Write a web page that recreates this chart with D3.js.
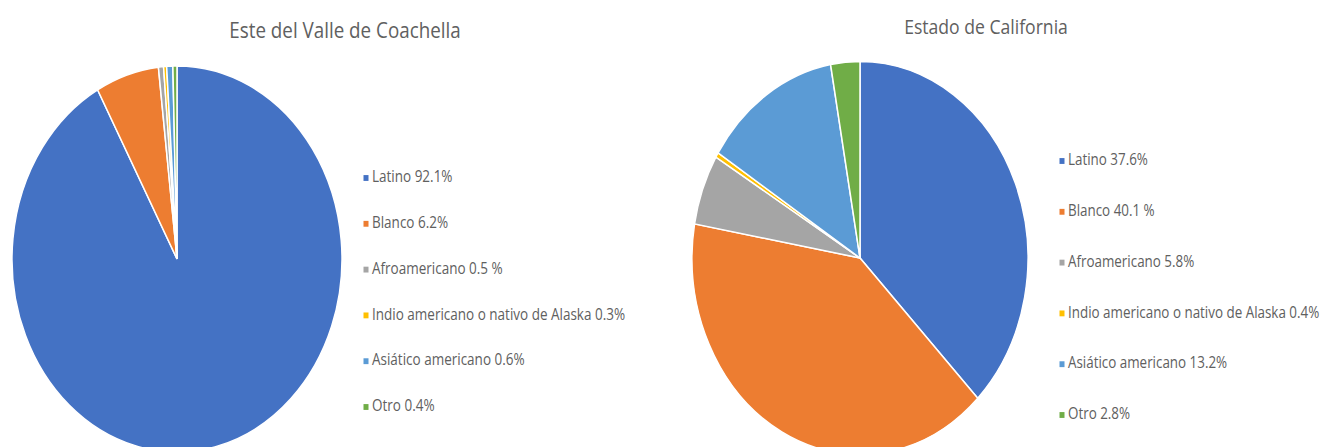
<!DOCTYPE html>
<html>
<head>
<meta charset="utf-8">
<script src="https://cdn.jsdelivr.net/npm/d3@7"></script>
<style>
  body { margin: 0; background: #fff; }
  text { font-family: "Open Sans", "Noto Sans", sans-serif; fill: #606060; }
</style>
</head>
<body>
<div id="chart"></div>
<script>
var categories = ["Latino", "Blanco", "Afroamericano", "Indio americano o nativo de Alaska", "Asiático americano", "Otro"];
var colors = ["#4472C4", "#ED7D31", "#A5A5A5", "#FFC000", "#5B9BD5", "#70AD47"];

var coachellaValues = [92.1, 6.2, 0.5, 0.3, 0.6, 0.4];
var coachellaLabels = ["Latino 92.1%", "Blanco 6.2%", "Afroamericano 0.5 %", "Indio americano o nativo de Alaska 0.3%", "Asiático americano 0.6%", "Otro 0.4%"];

var californiaValues = [37.6, 40.1, 5.8, 0.4, 13.2, 2.8];
var californiaLabels = ["Latino 37.6%", "Blanco 40.1 %", "Afroamericano 5.8%", "Indio americano o nativo de Alaska 0.4%", "Asiático americano 13.2%", "Otro 2.8%"];

var width = 1323, height = 447;

var svg = d3.select("#chart").append("svg")
    .attr("width", width)
    .attr("height", height);

svg.append("rect").attr("width", width).attr("height", height).attr("fill", "#fff");

// the source picture is stretched vertically, so every panel gets the same squash
var stretch = 1.17;

var panels = [
  { title: "Este del Valle de Coachella", values: coachellaValues, labels: coachellaLabels,
    cx: 177, cy: 259, r: 165, titleX: 345, titleY: 32, titleSize: 18.8,
    legX: 366, legY: 178, legStep: 45.8, legSize: 13.5 },
  { title: "Estado de California", values: californiaValues, labels: californiaLabels,
    cx: 860, cy: 258, r: 168, titleX: 986, titleY: 28, titleSize: 17.6,
    legX: 1062, legY: 161, legStep: 50.8, legSize: 13.4 }
];

var pie = d3.pie().sort(null).value(d => d.value);

panels.forEach(function(p) {
  var rows = categories.map((c, i) => ({ name: c, value: p.values[i], color: colors[i], label: p.labels[i] }));

  var arc = d3.arc().innerRadius(0).outerRadius(p.r);

  var g = svg.append("g")
      .attr("transform", `translate(${p.cx},${p.cy}) scale(1,${stretch})`);

  g.selectAll("path")
    .data(pie(rows))
    .enter().append("path")
    .attr("d", arc)
    .attr("fill", d => d.data.color)
    .attr("stroke", "#fff")
    .attr("stroke-width", 1.5)
    .attr("vector-effect", "non-scaling-stroke");

  // title
  svg.append("g")
    .attr("transform", `translate(${p.titleX},${p.titleY}) scale(1,${stretch})`)
    .append("text")
    .attr("text-anchor", "middle")
    .attr("dominant-baseline", "middle")
    .style("font-size", p.titleSize + "px")
    .text(p.title);

  // legend
  var leg = svg.selectAll(null)
    .data(rows)
    .enter().append("g")
    .attr("transform", (d, i) => `translate(${p.legX},${p.legY + i * p.legStep}) scale(1,${stretch})`);

  leg.append("rect")
    .attr("x", -2.5).attr("y", -2.5)
    .attr("width", 5).attr("height", 5)
    .attr("fill", d => d.color);

  leg.append("text")
    .attr("x", 6)
    .attr("dominant-baseline", "middle")
    .style("font-size", p.legSize + "px")
    .text(d => d.label);
});
</script>
</body>
</html>
